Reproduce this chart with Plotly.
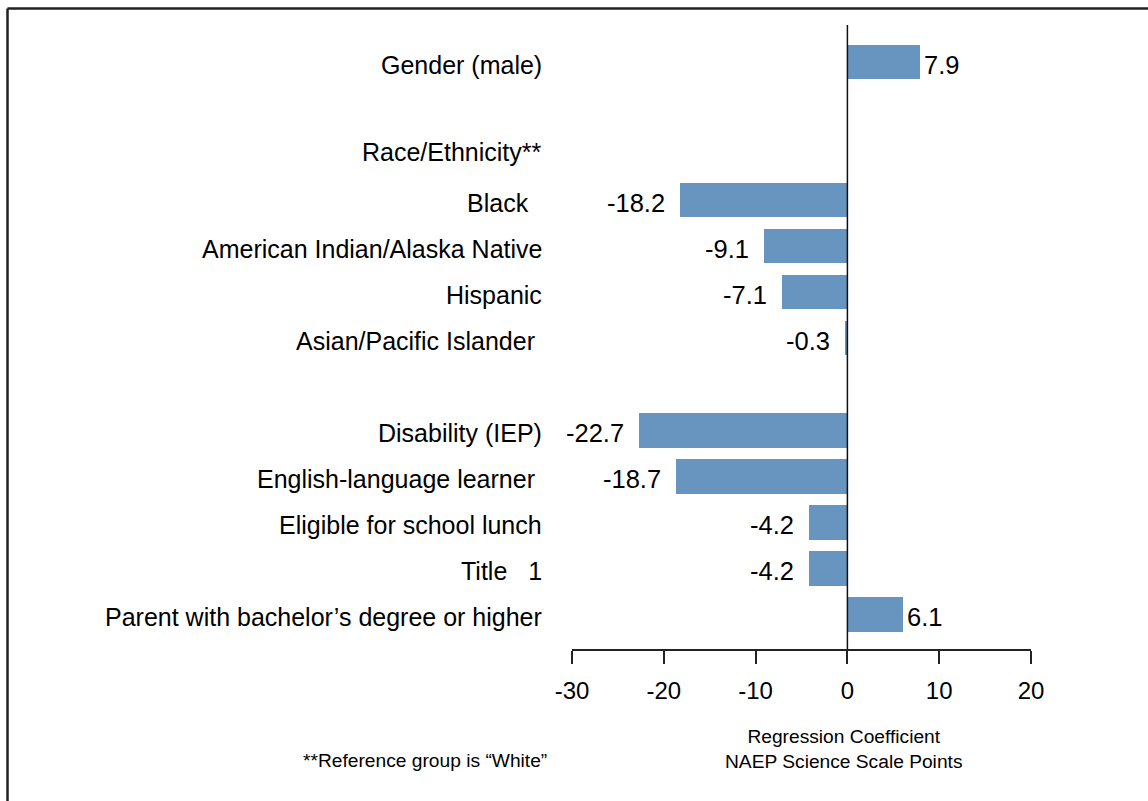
import plotly.graph_objects as go

categories = ["Gender (male)", "Black\u00a0\u00a0", "American Indian/Alaska Native",
              "Hispanic", "Asian/Pacific Islander\u00a0", "Disability (IEP)",
              "English-language learner\u00a0", "Eligible for school lunch",
              "Title\u00a0\u00a0\u00a01", "Parent with bachelor\u2019s degree or higher"]
values = [7.9, -18.2, -9.1, -7.1, -0.3, -22.7, -18.7, -4.2, -4.2, 6.1]
rows = [0, 3, 4, 5, 6, 8, 9, 10, 11, 12]
group_header = "Race/Ethnicity**"
group_header_row = 1.89
value_labels = ["7.9", "-18.2", "-9.1", "-7.1", "-0.3", "-22.7", "-18.7", "-4.2", "-4.2", "6.1"]
tick_vals = [-30, -20, -10, 0, 10, 20]
tick_text = ["-30", "-20", "-10", "0", "10", "20"]

FONT = "Liberation Sans, Arial, Helvetica, sans-serif"
BAR = "#6795BF"

W, H = 1148, 801
ML, MR, MT, MB = 572, 117, 25, 152
PW = W - ML - MR
PH = H - MT - MB

def px_x(p):
    return (p - ML) / PW

def px_y(p):
    return (H - MB - p) / PH

fig = go.Figure()
fig.add_trace(go.Bar(
    x=values, y=rows, orientation="h",
    marker=dict(color=BAR, line=dict(width=0)),
    width=0.76, hoverinfo="skip", showlegend=False,
))

ann = []
for lab, r in zip(categories, rows):
    ann.append(dict(x=0, xref="paper", y=r, yref="y", text=lab, showarrow=False,
                    xanchor="right", yanchor="middle", xshift=-28, yshift=-3,
                    font=dict(size=25, color="#000", family=FONT)))
ann.append(dict(x=0, xref="paper", y=group_header_row, yref="y", text=group_header,
                showarrow=False, xanchor="right", yanchor="middle", xshift=-28, yshift=-3,
                font=dict(size=25, color="#000", family=FONT)))
for v, t, r in zip(values, value_labels, rows):
    if v >= 0:
        ann.append(dict(x=v, y=r, xref="x", yref="y", text=t, showarrow=False,
                        xanchor="left", yanchor="middle", xshift=2, yshift=-3,
                        font=dict(size=25.5, color="#000", family=FONT)))
    else:
        ann.append(dict(x=v, y=r, xref="x", yref="y", text=t, showarrow=False,
                        xanchor="right", yanchor="middle", xshift=-13, yshift=-3,
                        font=dict(size=25.5, color="#000", family=FONT)))
ann.append(dict(x=px_x(843), y=px_y(749), xref="paper", yref="paper",
                text="Regression Coefficient<br>NAEP Science Scale Points",
                showarrow=False, xanchor="center", yanchor="middle",
                font=dict(size=19.2, color="#000", family=FONT)))
ann.append(dict(x=px_x(425), y=px_y(760), xref="paper", yref="paper",
                text="**Reference group is \u201cWhite\u201d",
                showarrow=False, xanchor="center", yanchor="middle",
                font=dict(size=19.2, color="#000", family=FONT)))

shapes = [
    dict(type="line", xref="x", yref="paper", x0=0, x1=0, y0=0, y1=1,
         line=dict(color="#111", width=1.5)),
    dict(type="line", xref="paper", yref="paper", x0=px_x(7.5), x1=px_x(1160),
         y0=px_y(8.5), y1=px_y(8.5), line=dict(color="#222", width=2.5)),
    dict(type="line", xref="paper", yref="paper", x0=px_x(7.5), x1=px_x(7.5),
         y0=px_y(8.5), y1=px_y(820), line=dict(color="#222", width=2.5)),
]

fig.update_layout(
    width=W, height=H, margin=dict(l=ML, r=MR, t=MT, b=MB),
    paper_bgcolor="white", plot_bgcolor="white",
    font=dict(family=FONT, color="#000"),
    annotations=ann, shapes=shapes, bargap=0,
    xaxis=dict(range=[-30, 20], tickvals=tick_vals, ticktext=tick_text,
               showgrid=False, zeroline=False, showline=True, linecolor="#222",
               linewidth=1.5, ticks="outside", ticklen=13, tickwidth=1.5,
               tickcolor="#222", tickfont=dict(size=24, family=FONT, color="#000"),
               ticklabelstandoff=6, fixedrange=True),
    yaxis=dict(range=[12.76, -0.804], showticklabels=False, showgrid=False,
               zeroline=False, showline=False, ticks="", fixedrange=True),
)

fig.write_html("out.html", config={"displayModeBar": False})
